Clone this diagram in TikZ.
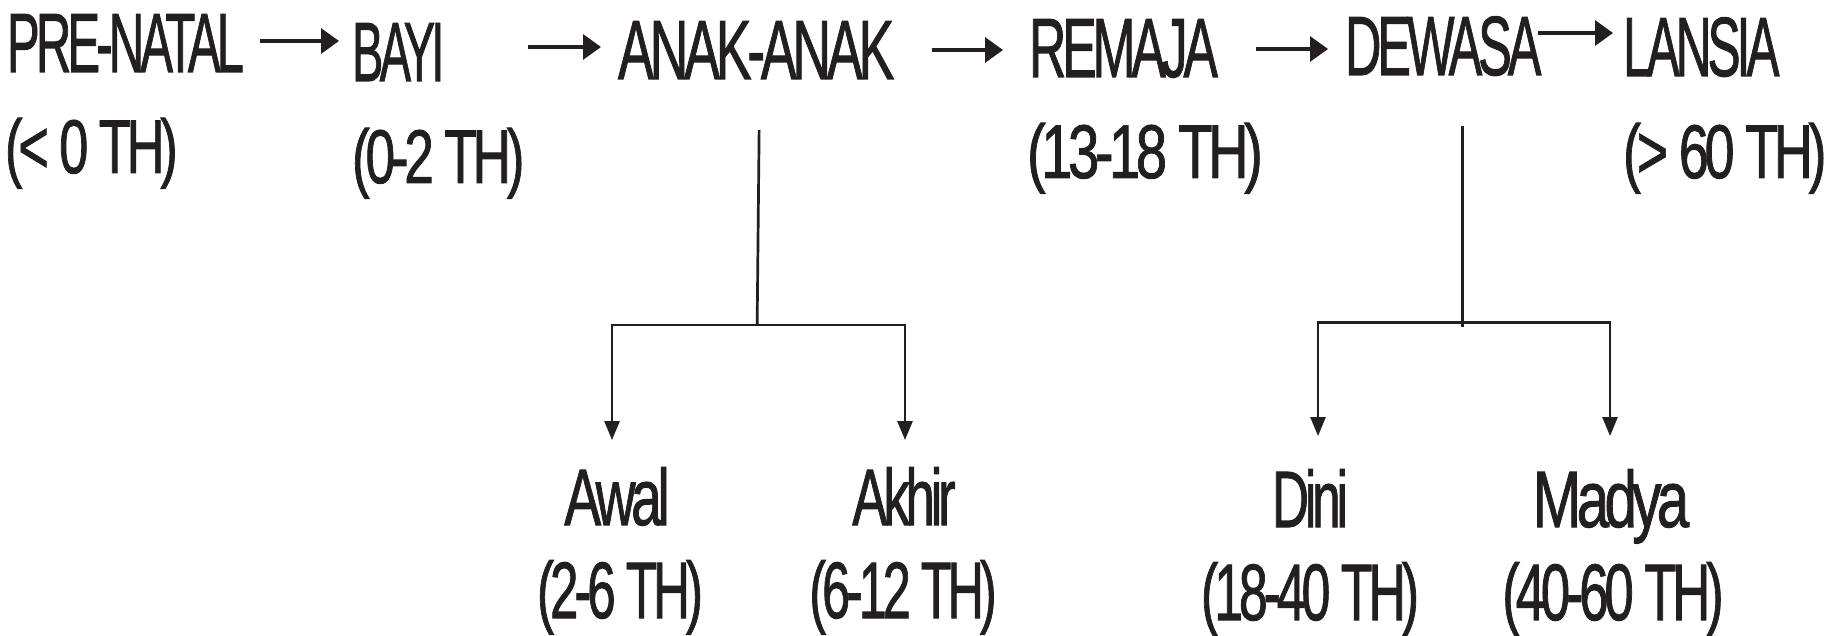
\documentclass[tikz,border=0pt]{standalone}
\usepackage{fontspec}
\setmainfont[FakeBold=1.3,LetterSpace=-8]{Liberation Sans}
\usetikzlibrary{arrows.meta,calc}
\definecolor{ink}{HTML}{231F20}
\newcommand{\sq}[2]{\scalebox{#1}[1]{#2}}
\begin{document}
\begin{tikzpicture}[x=0.5pt,y=-0.5pt,
  lbl/.style={inner sep=0pt, outer sep=0pt, text=ink},
  big/.style={lbl, font=\fontsize{42}{48}\selectfont, anchor=base west},
  age/.style={lbl, font=\fontsize{38}{44}\selectfont, anchor=base west},
  sub/.style={lbl, font=\fontsize{40}{46}\selectfont, anchor=base},
  harr/.style={draw=ink, line width=1.65pt, -{Triangle[length=9pt,width=12.5pt]}},
  tree/.style={draw=ink, line width=1.35pt},
  varr/.style={tree, line join=miter, -{Triangle[length=9.5pt,width=7.5pt]}}]
\useasboundingbox (0,0) rectangle (1841,636);
% top row
\node[big] (prenatal) at (7,72) {\sq{0.585}{PRE-NATAL}};
\node[big] (bayi) at (352,81) {\sq{0.56}{BAYI}};
\node[big] (anak) at (618,79) {\sq{0.64}{ANAK-ANAK}};
\node[big] (remaja) at (1029,77) {\sq{0.615}{REMAJA}};
\node[big] (dewasa) at (1345,75) {\sq{0.60}{DEWASA}};
\node[big] (lansia) at (1623,76) {\sq{0.59}{LANSIA}};
% ages
\node[age] (prenatalage) at (5,173) {\sq{0.69}{(< 0 TH)}};
\node[age] (bayiage) at (352,183) {\sq{0.70}{(0-2 TH)}};
\node[age] (remajaage) at (1027,178) {\sq{0.74}{(13-18 TH)}};
\node[age] (lansiaage) at (1623,178) {\sq{0.71}{(> 60 TH)}};
% sub stages
\node[sub] (awal) at (617,525) {\sq{0.69}{Awal}};
\node[sub] (akhir) at (904,525) {\sq{0.66}{Akhir}};
\node[sub] (dini) at (1310,527) {\sq{0.64}{Dini}};
\node[sub] (madya) at (1611,527) {\sq{0.73}{Madya}};
\node[sub] (awalage) at (620,618) {\sq{0.64}{(2-6 TH)}};
\node[sub] (akhirage) at (903,618) {\sq{0.63}{(6-12 TH)}};
\node[sub] (diniage) at (1310,620) {\sq{0.65}{(18-40 TH)}};
\node[sub] (madyaage) at (1613,620) {\sq{0.66}{(40-60 TH)}};
% main arrows
\draw[harr] ($(prenatal.base east)+(16,-31)$) -- ($(bayi.base west)+(-13,-40)$);
\draw[harr] ($(bayi.base east)+(84,-34)$) -- ($(anak.base west)+(-17,-32)$);
\draw[harr] ($(anak.base east)+(38,-29)$) -- ($(remaja.base west)+(-26,-27)$);
\draw[harr] ($(remaja.base east)+(38,-28)$) -- ($(dewasa.base west)+(-17,-26)$);
\draw[harr] ($(dewasa.base east)+(-3,-42)$) -- ($(lansia.base west)+(-10,-43)$);
% tree 1
\coordinate (j1) at ($(anak.south)+(1,246)$);
\coordinate (a1) at ($(awal.north |- j1)+(-5,0)$);
\coordinate (a2) at ($(akhir.north |- j1)+(1,0)$);
\draw[tree] ($(anak.south)+(3,51)$) -- (j1);
\draw[varr] (j1) -- (a1) -- ($(awal.north)+(-5,-27)$);
\draw[varr] (j1) -- (a2) -- ($(akhir.north)+(1,-27)$);
% tree 2
\coordinate (j2) at ($(dewasa.south)+(19,247)$);
\coordinate (d1) at ($(dini.north |- j2)+(8,0)$);
\coordinate (d2) at ($(madya.north |- j2)+(-1,0)$);
\draw[tree] ($(dewasa.south)+(19,50)$) -- ($(dewasa.south)+(19,251)$);
\draw[varr] (j2) -- (d1) -- ($(dini.north)+(8,-33)$);
\draw[varr] (j2) -- (d2) -- ($(madya.north)+(-1,-33)$);
\end{tikzpicture}
\end{document}
